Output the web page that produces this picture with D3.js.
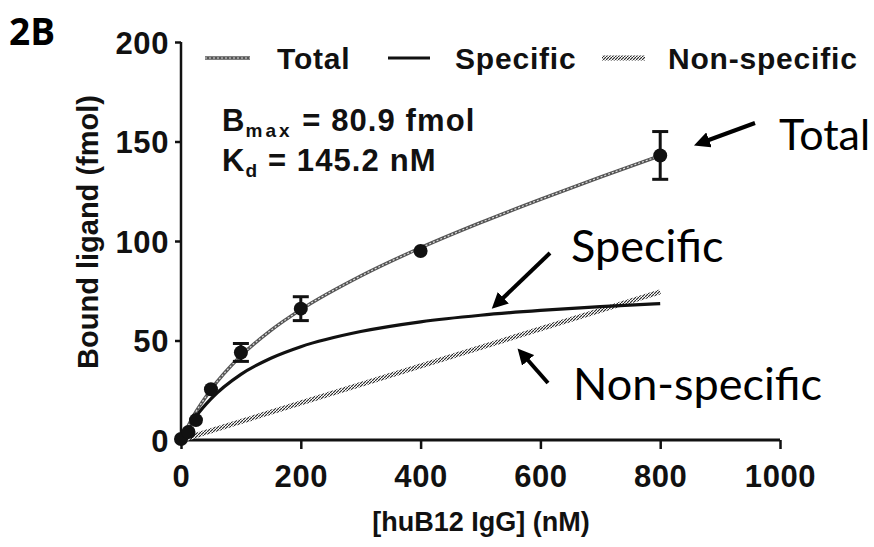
<!DOCTYPE html>
<html><head><meta charset="utf-8">
<script src="https://cdn.jsdelivr.net/npm/d3@7"></script>
<style>
html,body{margin:0;padding:0;background:#fff;}
svg{display:block;}
.ax text{font-family:"Liberation Sans",Arial,sans-serif;font-weight:bold;font-size:31px;letter-spacing:0.6px;fill:#111;}
</style></head>
<body>
<svg id="chart" width="874" height="547"></svg>
<script>
// ---- data ----
const pointX   = [0, 12.5, 25, 50, 100, 200, 400, 800];
const pointY   = [0.5, 4, 10, 25.5, 44, 66, 95, 143];
const pointErr = [0, 1, 1.5, 2, 4.5, 6, 2, 12];

const curveX        = [0, 25, 50, 100, 150, 200, 300, 400, 500, 600, 700, 800];
const specificY     = [0, 11.9, 20.7, 33.0, 41.1, 46.9, 54.5, 59.4, 62.7, 65.1, 67.0, 68.5];
const totalY        = [0, 14.2, 25.3, 42.3, 55.1, 65.5, 82.4, 96.6, 109.2, 120.9, 132.1, 142.9];
const nonSpecX      = [0, 800];
const nonSpecY      = [0, 74.4];

const xTicks = [0, 200, 400, 600, 800, 1000];
const yTicks = [0, 50, 100, 150, 200];
const legendLabels = ["Total", "Specific", "Non-specific"];

// ---- layout ----
const svg = d3.select("#chart");
const x = d3.scaleLinear().domain([0, 1000]).range([181, 780]);
const y = d3.scaleLinear().domain([0, 200]).range([440, 42]);

const defs = svg.append("defs");
const hatch = defs.append("pattern").attr("id","hatch").attr("patternUnits","userSpaceOnUse")
  .attr("width",3).attr("height",3);
hatch.append("rect").attr("width",3).attr("height",3).attr("fill","#fff");
hatch.append("path").attr("d","M-1,4 L4,-1").attr("stroke","#222").attr("stroke-width",1.1);

// axes
const xAxis = svg.append("g").attr("class","ax").attr("transform","translate(0,440)")
  .call(d3.axisBottom(x).tickValues(xTicks).tickSize(9).tickPadding(16).tickFormat(d3.format("d")));
const yAxis = svg.append("g").attr("class","ax").attr("transform","translate(181,0)")
  .call(d3.axisLeft(y).tickValues(yTicks).tickSize(6).tickPadding(6).tickFormat(d3.format("d")));
xAxis.select(".domain").attr("stroke","#111").attr("stroke-width",3).attr("d","M181,0H780");
yAxis.select(".domain").attr("stroke","#111").attr("stroke-width",2.5).attr("d","M0,440V42");
xAxis.selectAll(".tick line").attr("stroke","#111").attr("stroke-width",2.5);
yAxis.selectAll(".tick line").attr("stroke","#111").attr("stroke-width",2.5);
xAxis.selectAll(".tick text").attr("dy","0.71em");
yAxis.selectAll(".tick text").attr("dy","0.36em");

// axis titles
svg.append("text").attr("x", 481).attr("y", 531).attr("text-anchor","middle")
  .attr("font-family","Liberation Sans, Arial, sans-serif").attr("font-weight","bold")
  .attr("font-size",27).attr("fill","#111").text("[huB12 IgG] (nM)");
svg.append("text").attr("transform","translate(98,232) rotate(-90)").attr("text-anchor","middle")
  .attr("font-family","Liberation Sans, Arial, sans-serif").attr("font-weight","bold")
  .attr("font-size",29).attr("fill","#111").text("Bound ligand (fmol)");

// panel label
svg.append("text").attr("x",9).attr("y",45).attr("font-family","Open Sans, sans-serif")
  .attr("font-weight","bold").attr("font-size",37).attr("fill","#000").text("2B");

// curves
const line = d3.line().x(d => x(d[0])).y(d => y(d[1])).curve(d3.curveMonotoneX);
const nsData = nonSpecX.map((v,i)=>[v, nonSpecY[i]]);
svg.append("path").attr("d", line(nsData)).attr("fill","none")
  .attr("stroke","url(#hatch)").attr("stroke-width",5);
const spData = curveX.map((v,i)=>[v, specificY[i]]);
svg.append("path").attr("d", line(spData)).attr("fill","none")
  .attr("stroke","#111").attr("stroke-width",3.2);
const totData = curveX.map((v,i)=>[v, totalY[i]]);
svg.append("path").attr("d", line(totData)).attr("fill","none")
  .attr("stroke","#555").attr("stroke-width",3.4);
svg.append("path").attr("d", line(totData)).attr("fill","none")
  .attr("stroke","#ddd").attr("stroke-width",1.2).attr("stroke-dasharray","2,2");

// error bars + points
const pts = pointX.map((v,i)=>({x:v, y:pointY[i], e:pointErr[i]}));
const eb = svg.append("g").attr("stroke","#111").attr("stroke-width",3);
pts.filter(d=>d.e>2).forEach(d=>{
  eb.append("line").attr("x1",x(d.x)).attr("x2",x(d.x)).attr("y1",y(d.y-d.e)).attr("y2",y(d.y+d.e));
  [d.y-d.e, d.y+d.e].forEach(v=>{
    eb.append("line").attr("x1",x(d.x)-8).attr("x2",x(d.x)+8).attr("y1",y(v)).attr("y2",y(v));
  });
});
svg.append("g").selectAll("circle").data(pts).join("circle")
  .attr("cx",d=>x(d.x)).attr("cy",d=>y(d.y)).attr("r",7).attr("fill","#111");

// legend
const lg = svg.append("g").attr("font-family","Liberation Sans, Arial, sans-serif")
  .attr("font-weight","bold").attr("font-size",30).attr("letter-spacing",0.8).attr("fill","#111");
const legX = [[205,250,277],[388,430,455],[602,645,668]];
const legY = 58;
legX.forEach((p,i)=>{
  const seg = lg.append("line").attr("x1",p[0]).attr("x2",p[1]).attr("y1",legY).attr("y2",legY);
  if(i===0){ seg.attr("stroke","#555").attr("stroke-width",3.4);
    lg.append("line").attr("x1",p[0]).attr("x2",p[1]).attr("y1",legY).attr("y2",legY)
      .attr("stroke","#ddd").attr("stroke-width",1.2).attr("stroke-dasharray","2,2"); }
  else if(i===1){ seg.attr("stroke","#111").attr("stroke-width",3.2); }
  else { seg.attr("stroke","url(#hatch)").attr("stroke-width",5); }
  lg.append("text").attr("x",p[2]).attr("y",legY+11).text(legendLabels[i]);
});

// parameter annotation
const ann = svg.append("g").attr("font-family","Liberation Sans, Arial, sans-serif")
  .attr("font-weight","bold").attr("fill","#111").attr("letter-spacing",1.1);
const t1 = ann.append("text").attr("x",222).attr("y",131).attr("font-size",31);
t1.append("tspan").text("B");
t1.append("tspan").attr("font-size",19).attr("dy",6).attr("letter-spacing",3).text("max");
t1.append("tspan").attr("dy",-6).text(" = 80.9 fmol");
const t2 = ann.append("text").attr("x",222).attr("y",171).attr("font-size",31);
t2.append("tspan").text("K");
t2.append("tspan").attr("font-size",19).attr("dy",6).text("d");
t2.append("tspan").attr("dy",-6).text(" = 145.2 nM");

// callouts
const call = svg.append("g").attr("font-family","Lato, Open Sans, sans-serif").attr("font-size",43).attr("fill","#000");
call.append("text").attr("x",779).attr("y",150).text("Total");
call.append("text").attr("x",571).attr("y",262).attr("font-size",45).text("Specific");
call.append("text").attr("x",573).attr("y",400).attr("font-size",45).text("Non-specific");

defs.append("marker").attr("id","ah").attr("viewBox","0 0 10 10").attr("refX",2).attr("refY",5)
  .attr("markerWidth",4).attr("markerHeight",4).attr("orient","auto")
  .append("path").attr("d","M0,0 L10,5 L0,10 z").attr("fill","#000");
const arrows = [[755,123,706,141],[550,253,501,300],[548,383,526,358]];
arrows.forEach(a=>{
  svg.append("line").attr("x1",a[0]).attr("y1",a[1]).attr("x2",a[2]).attr("y2",a[3])
    .attr("stroke","#000").attr("stroke-width",4).attr("marker-end","url(#ah)");
});
</script>
</body></html>
